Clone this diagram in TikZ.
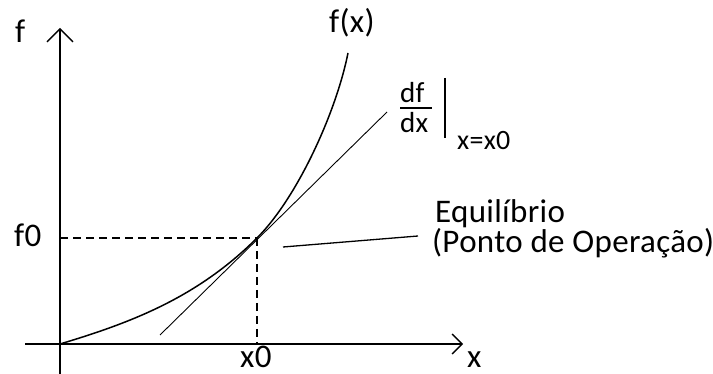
\documentclass[tikz,border=0pt]{standalone}
\usepackage{fontspec}
\setmainfont{Carlito}[LetterSpace=1]
\usetikzlibrary{arrows.meta}
\begin{document}
\begin{tikzpicture}[x=1pt,y=-1pt,
  lbl/.style={anchor=base west,inner sep=0pt,font=\fontsize{33}{33}\selectfont},
  smalllbl/.style={anchor=base west,inner sep=0pt,font=\fontsize{29}{29}\selectfont},
  sublbl/.style={anchor=base west,inner sep=0pt,font=\fontsize{28}{28}\selectfont},
  axis/.style={line width=1.8pt},
  guide/.style={line width=1.4pt,dash pattern=on 8pt off 5pt},
  curveline/.style={line width=1.5pt},
  thinline/.style={line width=0.9pt}]
\useasboundingbox (0,0) rectangle (713,374);
% axes
\coordinate (O) at (60,344);
\coordinate (ybot) at (60,374);
\coordinate (ytop) at (60,28);
\coordinate (xleft) at (25,344);
\coordinate (xright) at (463,344);
\draw[axis,-{Straight Barb[length=13pt,width=26pt,line width=1.3pt]}] (ybot) -- (ytop);
\draw[axis,-{Straight Barb[length=10pt,width=20pt,line width=1.3pt]}] (xleft) -- (xright);
% operating point
\coordinate (P) at (257,238);
\coordinate (Py) at (60,238);
\coordinate (Px) at (257,344);
\draw[guide] (Py) -- (P);
\draw[guide] (P) -- (Px);
% curve f(x)
\coordinate (Cend) at (348,53);
\draw[curveline] (O) .. controls (130,323) and (197,298) .. (P)
  .. controls (297,198) and (336,113) .. (Cend);
% tangent
\coordinate (T1) at (160,335);
\coordinate (T2) at (387,112);
\draw[thinline] (T1) -- (T2);
% leader for equilibrium
\coordinate (L1) at (283,247);
\coordinate (L2) at (418,236);
\draw[line width=1.3pt] (L1) -- (L2);
% labels
\node[lbl] (lf) at (15,43) {f};
\node[lbl] (lfx) at (329,33) {f(x)};
\node[lbl] (lf0) at (14,247) {f0};
\node[lbl] (lx0) at (240,367) {x0};
\node[lbl] (lx) at (467,367) {x};
\node[lbl] (leq) at (435,223) {Equilíbrio};
\node[lbl] (lpo) at (432,253) {(Ponto de Operação)};
% derivative label
\node[smalllbl] (ldf) at (400,103) {df};
\node[smalllbl] (ldx) at (400,133) {dx};
\coordinate (fb1) at (400,108);
\coordinate (fb2) at (432,108);
\draw[line width=1.3pt] (fb1) -- (fb2);
\coordinate (vb1) at (445,78);
\coordinate (vb2) at (445,138);
\draw[line width=1.8pt] (vb1) -- (vb2);
\node[sublbl] (lsub) at (457,150) {x=x0};
\end{tikzpicture}
\end{document}
